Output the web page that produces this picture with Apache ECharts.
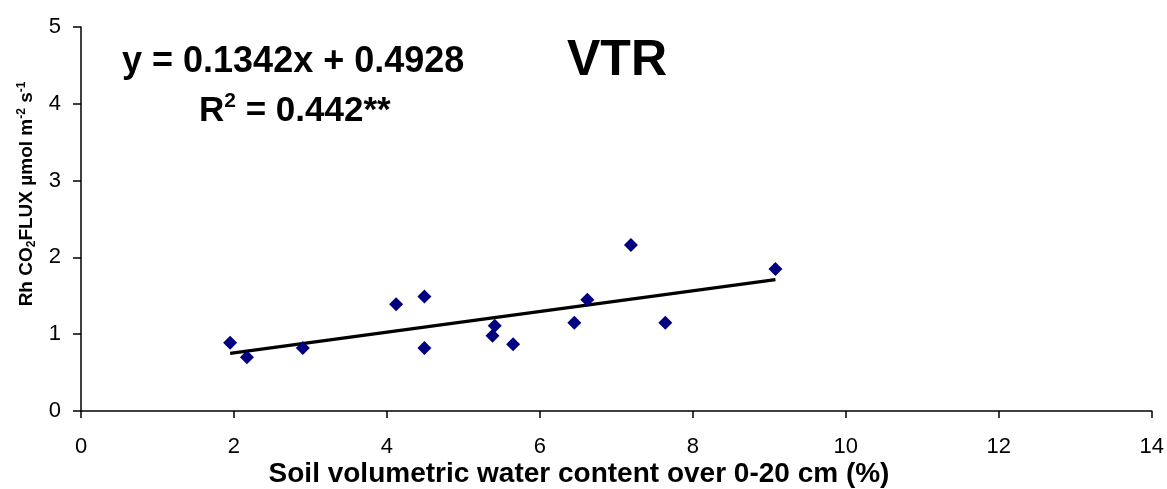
<!DOCTYPE html>
<html>
<head>
<meta charset="utf-8">
<script src="https://cdn.jsdelivr.net/npm/echarts@6/dist/echarts.min.js"></script>
<style>html,body{margin:0;padding:0;background:#fff}#c{width:1167px;height:489px}</style>
</head>
<body>
<div id="c"></div>
<script>
// Data
const xVals = [1.95, 2.17, 2.90, 4.12, 4.49, 4.49, 5.41, 5.38, 5.65, 6.45, 6.62, 7.19, 7.64, 9.08];
const yVals = [0.89, 0.70, 0.82, 1.39, 1.49, 0.82, 1.11, 0.98, 0.87, 1.15, 1.45, 2.16, 1.15, 1.85];
const trendX = [1.95, 9.08];
const trendY = [0.75, 1.71];
const xTicks = [0, 2, 4, 6, 8, 10, 12, 14];
const yTicks = [0, 1, 2, 3, 4, 5];
const xTitle = 'Soil volumetric water content over 0-20 cm (%)';
const equationText = 'y = 0.1342x + 0.4928';
const r2Value = ' = 0.442**';
const siteLabel = 'VTR';

const FONT = '"Liberation Sans", Arial, sans-serif';
const chart = echarts.init(document.getElementById('c'), null, {renderer: 'canvas'});
const points = xVals.map((x, i) => [x, yVals[i]]);
const trend = trendX.map((x, i) => [x, trendY[i]]);

chart.setOption({
  animation: false,
  backgroundColor: '#ffffff',
  grid: {left: 81, right: 15, top: 27, bottom: 78},
  xAxis: {
    type: 'value', min: xTicks[0], max: xTicks[xTicks.length - 1], interval: 2,
    axisLine: {show: true, onZero: false, lineStyle: {color: '#000', width: 1.5}},
    axisTick: {show: true, length: 7, lineStyle: {color: '#000', width: 1.5}},
    axisLabel: {color: '#000', fontSize: 22, fontFamily: FONT, margin: 25},
    splitLine: {show: false}
  },
  yAxis: {
    type: 'value', min: yTicks[0], max: yTicks[yTicks.length - 1], interval: 1,
    axisLine: {show: true, onZero: false, lineStyle: {color: '#000', width: 1.5}},
    axisTick: {show: true, length: 8, lineStyle: {color: '#000', width: 1.5}},
    axisLabel: {color: '#000', fontSize: 22, fontFamily: FONT, margin: 20},
    splitLine: {show: false}
  },
  series: [
    {
      type: 'line', data: trend, symbol: 'none',
      lineStyle: {color: '#000', width: 3.2}, z: 2
    },
    {
      type: 'scatter', data: points, symbol: 'diamond', symbolSize: [14, 14],
      itemStyle: {color: '#000080', opacity: 1}, z: 3
    }
  ],
  graphic: [
    {
      type: 'text', left: 122, top: 44,
      style: {text: equationText, font: 'bold 36px ' + FONT, fill: '#000'}
    },
    {
      type: 'text', left: 199, top: 91,
      style: {
        text: '{a|R}{s|2}{a|' + r2Value + '}',
        rich: {
          a: {font: 'bold 35px ' + FONT, fill: '#000', lineHeight: 40},
          s: {font: 'bold 21px ' + FONT, fill: '#000', verticalAlign: 'top', lineHeight: 40, padding: [0, 0, 14, 0]}
        }
      }
    },
    {
      type: 'text', left: 567, top: 36,
      style: {text: siteLabel, font: 'bold 50px ' + FONT, fill: '#000'}
    },
    {
      type: 'text', x: 579, y: 474,
      style: {text: xTitle, font: 'bold 28px ' + FONT, fill: '#000', align: 'center', verticalAlign: 'middle'}
    },
    {
      type: 'text', x: 27, y: 194, rotation: Math.PI / 2,
      style: {
        text: '{a|Rh CO}{b|2}{a|FLUX µmol m}{c|-2}{a| s}{c|-1}',
        align: 'center', verticalAlign: 'middle',
        rich: {
          a: {font: 'bold 19px ' + FONT, fill: '#000', lineHeight: 26},
          b: {font: 'bold 12px ' + FONT, fill: '#000', lineHeight: 26, padding: [10, 0, 0, 0]},
          c: {font: 'bold 12px ' + FONT, fill: '#000', lineHeight: 26, padding: [0, 0, 10, 0]}
        }
      }
    }
  ]
});
</script>
</body>
</html>
